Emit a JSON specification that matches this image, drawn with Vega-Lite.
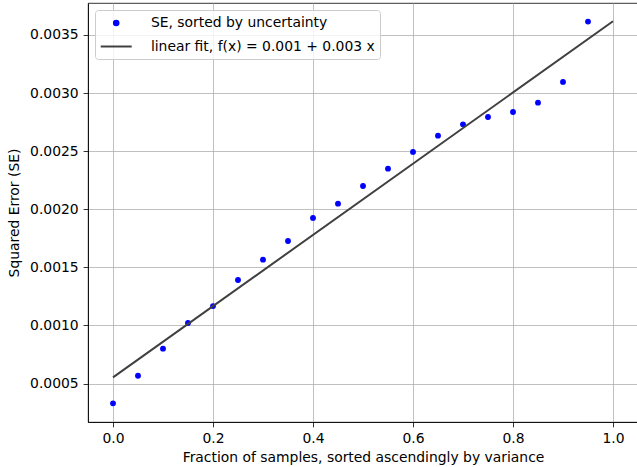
{
  "$schema": "https://vega.github.io/schema/vega-lite/v6.json",
  "autosize": {"type": "none"},
  "width": 550,
  "height": 419,
  "padding": {"left": 88, "top": 3, "right": 0, "bottom": 45},
  "background": "white",
  "config": {
    "font": "DejaVu Sans",
    "view": {"stroke": "black", "strokeWidth": 0.8},
    "axis": {
      "labelFont": "DejaVu Sans",
      "labelFontSize": 13.9,
      "labelColor": "black",
      "titleFont": "DejaVu Sans",
      "titleFontSize": 13.9,
      "titleFontWeight": "normal",
      "titleColor": "black",
      "domainColor": "black",
      "domainWidth": 0.8,
      "tickColor": "black",
      "tickWidth": 0.8,
      "tickSize": 4.9,
      "labelPadding": 4.9,
      "gridColor": "#b0b0b0",
      "gridWidth": 0.8,
      "gridOpacity": 1,
      "zindex": 1
    },
    "legend": {
      "labelFont": "DejaVu Sans",
      "labelFontSize": 13.9,
      "labelColor": "black",
      "labelLimit": 500
    }
  },
  "datasets": {
    "pts": [
      {"frac": 0.00, "se": 0.000330, "series": "SE, sorted by uncertainty"},
      {"frac": 0.05, "se": 0.000567, "series": "SE, sorted by uncertainty"},
      {"frac": 0.10, "se": 0.000800, "series": "SE, sorted by uncertainty"},
      {"frac": 0.15, "se": 0.001021, "series": "SE, sorted by uncertainty"},
      {"frac": 0.20, "se": 0.001167, "series": "SE, sorted by uncertainty"},
      {"frac": 0.25, "se": 0.001391, "series": "SE, sorted by uncertainty"},
      {"frac": 0.30, "se": 0.001566, "series": "SE, sorted by uncertainty"},
      {"frac": 0.35, "se": 0.001727, "series": "SE, sorted by uncertainty"},
      {"frac": 0.40, "se": 0.001925, "series": "SE, sorted by uncertainty"},
      {"frac": 0.45, "se": 0.002048, "series": "SE, sorted by uncertainty"},
      {"frac": 0.50, "se": 0.002200, "series": "SE, sorted by uncertainty"},
      {"frac": 0.55, "se": 0.002349, "series": "SE, sorted by uncertainty"},
      {"frac": 0.60, "se": 0.002493, "series": "SE, sorted by uncertainty"},
      {"frac": 0.65, "se": 0.002633, "series": "SE, sorted by uncertainty"},
      {"frac": 0.70, "se": 0.002731, "series": "SE, sorted by uncertainty"},
      {"frac": 0.75, "se": 0.002794, "series": "SE, sorted by uncertainty"},
      {"frac": 0.80, "se": 0.002837, "series": "SE, sorted by uncertainty"},
      {"frac": 0.85, "se": 0.002917, "series": "SE, sorted by uncertainty"},
      {"frac": 0.90, "se": 0.003096, "series": "SE, sorted by uncertainty"},
      {"frac": 0.95, "se": 0.003615, "series": "SE, sorted by uncertainty"}
    ],
    "fit": [
      {"frac": 0.0, "se": 0.000553, "series": "linear fit, f(x) = 0.001 + 0.003 x"},
      {"frac": 1.0, "se": 0.003618, "series": "linear fit, f(x) = 0.001 + 0.003 x"}
    ]
  },
  "encoding": {
    "x": {
      "field": "frac", "type": "quantitative",
      "scale": {"domain": [-0.05, 1.05], "nice": false, "zero": false},
      "axis": {"values": [0, 0.2, 0.4, 0.6, 0.8, 1.0], "format": ".1f", "title": "Fraction of samples, sorted ascendingly by variance", "titlePadding": 5}
    },
    "y": {
      "field": "se", "type": "quantitative",
      "scale": {"domain": [0.000169, 0.003775], "nice": false, "zero": false},
      "axis": {"values": [0.0005, 0.001, 0.0015, 0.002, 0.0025, 0.003, 0.0035], "format": ".4f", "title": "Squared Error (SE)", "titlePadding": 8}
    },
    "color": {
      "field": "series", "type": "nominal",
      "scale": {
        "domain": ["SE, sorted by uncertainty", "linear fit, f(x) = 0.001 + 0.003 x"],
        "range": ["#0000ff", "#404040"]
      },
      "legend": {
        "title": null,
        "orient": "top-left",
        "offset": 7.3,
        "padding": 5,
        "rowPadding": 8.5,
        "symbolOffset": 8.2,
        "labelOffset": 26.7,
        "symbolSize": 196,
        "fillColor": "rgba(255,255,255,0.8)",
        "strokeColor": "#cccccc",
        "cornerRadius": 3,
        "encode": {
          "symbols": {
            "update": {
              "fill": {"scale": "color", "field": "value"},
              "stroke": {"scale": "color", "field": "value"},
              "strokeWidth": {"value": 2},
              "opacity": {"value": 1}
            }
          }
        }
      }
    }
  },
  "layer": [
    {
      "data": {"name": "pts"},
      "mark": {"type": "point", "filled": true, "size": 196, "opacity": 1, "stroke": "#0000ff", "strokeWidth": 1.2},
      "encoding": {
        "shape": {
          "field": "series", "type": "nominal",
          "scale": {
            "domain": ["SE, sorted by uncertainty", "linear fit, f(x) = 0.001 + 0.003 x"],
            "range": ["M-0.33,0A0.33,0.33,0,1,1,0.33,0A0.33,0.33,0,1,1,-0.33,0Z", "M-2.214,0L2.214,0"]
          },
          "legend": {
            "title": null,
            "orient": "top-left",
            "offset": 7.3,
            "padding": 5,
            "rowPadding": 8.5,
            "symbolOffset": 8.2,
            "labelOffset": 26.7,
            "symbolSize": 196,
            "fillColor": "rgba(255,255,255,0.8)",
            "strokeColor": "#cccccc",
            "cornerRadius": 3,
            "encode": {
              "symbols": {
                "update": {
                  "fill": {"scale": "color", "field": "value"},
                  "stroke": {"scale": "color", "field": "value"},
                  "strokeWidth": {"value": 2},
                  "opacity": {"value": 1}
                }
              }
            }
          }
        }
      }
    },
    {
      "data": {"name": "fit"},
      "mark": {"type": "line", "strokeWidth": 2},
      "encoding": {}
    }
  ]
}
